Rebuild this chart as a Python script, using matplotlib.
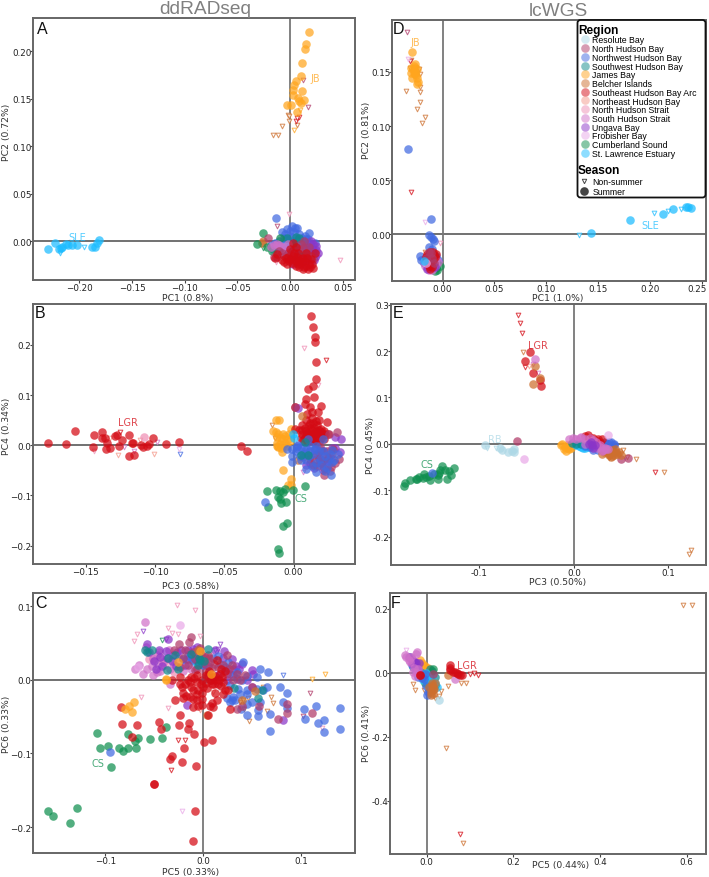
import matplotlib
matplotlib.use("Agg")
import matplotlib.pyplot as plt
from matplotlib.lines import Line2D
from matplotlib.patches import FancyBboxPatch
from matplotlib.transforms import IdentityTransform, ScaledTranslation

W, H = 709, 878
plt.rcParams['font.family'] = ['DejaVu Sans']

REGIONS = ["Resolute Bay", "North Hudson Bay", "Northwest Hudson Bay", "Southwest Hudson Bay", "James Bay",
           "Belcher Islands", "Southeast Hudson Bay Arc", "Northeast Hudson Bay", "North Hudson Strait",
           "South Hudson Strait", "Ungava Bay", "Frobisher Bay", "Cumberland Sound", "St. Lawrence Estuary"]
COLORS = {"RB": "#add8e6", "NHB": "#b03a68", "NW": "#4169e1", "SW": "#0e8a8a", "JB": "#ffa51e", "BI": "#cd6f2e",
          "SE": "#d40a14", "NE": "#f4998b", "NHS": "#ef8fb5", "SHS": "#d070c8", "UB": "#8a35c8", "FB": "#e9a9e8",
          "CS": "#0f8f4f", "SLE": "#1cbcff"}
KEYS = list(COLORS)

# ---------- Panel A: PC1 / PC2 ----------
A_JB = [(.0178,.2206),(.0152,.208),(.0142,.2027),(.0111,.188),(.0104,.174),(.0054,.1687),(.0035,.1645),(.0026,.1596),
        (.0117,.1585),(.0031,.154),(.0073,.151),(.0136,.1487),(.0085,.1477),(.0102,.1453),(-.0026,.1431),(.0012,.1431),(.0064,.1364)]
A_JB_ns = [(.0098,.138),(.0035,.1168)]
A_BI_ns = [(-.0016,.1333),(-.0007,.1316),(-.0007,.127),(.0064,.1224),(-.0079,.1214),(-.0159,.1122),(-.0114,.1116)]
A_SE_ns = [(.0085,.1312),(.0054,.1266),(.0064,.1295),(-.009,-.015),(.004,-.009)]
A_NHB_ns = [(.0123,.1698),(.0168,.141),(-.012,.0162)]
A_SLE = [(-.2301,-.0077),(-.2235,-.0014),(-.2178,-.0074),(-.219,-.0081),(-.2165,-.006),(-.213,-.0028),(-.2105,-.0042),
         (-.2073,-.0039),(-.2026,-.0039),(-.1877,-.006),(-.1855,-.0056),(-.1836,-.0018),(-.1811,.001)]
A_SLE_ns = [(-.2184,-.0123),(-.1953,-.006)]
A_NW = [(-.013,.025),(-.008,.0095),(-.005,.008),(-.003,.013),(0,.0105),(.002,.0165),(.005,.014),(.007,.014),(.004,.0095),
        (.009,.008),(.018,.0088),(.017,.0025),(.014,.006),(.002,.005),(-.004,.003),(.008,.002),(.012,-.001),(-.018,-.004),
        (-.012,-.008),(-.006,-.004),(-.002,-.009),(.003,-.006),(.008,-.007),(.012,-.01),(.016,-.008),(.019,-.003),
        (.02,-.012),(.005,-.012),(-.014,-.002),(.01,-.014),(.015,-.015),(.022,-.008),(-.016,-.008),(-.01,0),(-.006,.004),
        (0,.002),(.004,0),(.007,-.003),(.011,.004),(.015,.002),(.018,-.006),(.014,-.004),(.001,-.004),(.006,-.009),(.024,-.002)]
A_SE = [(-.014,-.018),(-.012,-.013),(0,-.008),(.003,-.002),(.006,-.006),(.008,-.012),(.003,-.015),(-.002,-.016),(-.004,-.018),
        (-.001,-.021),(.002,-.023),(.005,-.02),(.008,-.024),(.011,-.022),(.013,-.027),(.015,-.026),(.018,-.024),(.022,-.028),
        (.012,-.029),(.017,-.029),(.007,-.017),(.012,-.018),(.015,-.012),(.02,-.019),(.024,-.012),(-.006,-.022),(.01,-.019),(.019,-.027),
        (-.008,-.02),(-.003,-.024),(0,-.019),(.006,-.026),(.009,-.021),(.014,-.021),(.016,-.018),(.021,-.024),(.009,-.027),(.004,-.012)]
A_NHB = [(-.021,.003),(-.015,-.017),(-.01,-.01),(-.005,-.015),(.001,-.012),(.004,-.017),(.01,-.003),(.013,0),(.016,-.012),
         (.02,-.015),(.009,-.008),(.022,-.019),(.006,-.022),(.018,-.006),(-.012,-.016),(-.008,-.012),(-.002,-.012),(.002,-.018),
         (.008,-.016),(.012,-.007),(.014,-.017),(.018,-.018),(.003,-.009)]
A_UB = [(.025,-.005),(.022,-.01),(.027,-.012),(.02,0),(.018,-.016),(.014,-.006),(.024,-.016),(.01,-.024),(.006,-.02),(.022,-.003),
        (.02,-.008),(.016,-.02),(.025,-.009),(.012,-.02),(.003,-.024),(.023,-.02),(.018,-.012)]
A_CS = [(-.0222,-.006),(-.0317,-.0032),(-.0253,.0084),(-.0095,.003),(-.017,-.01)]
A_BI = [(-.0253,0),(-.0262,-.002)]
A_SW = [(-.003,.003),(.006,.005),(.003,-.004),(.012,-.013),(.009,.003)]
A_SHS = [(-.012,-.003),(-.008,-.006),(-.015,-.004),(-.018,-.006),(-.01,-.004),(-.006,-.01),(-.002,-.003)]
A_NHS_ns = [(-.0005,.0285),(.0477,-.0196),(.015,-.016),(-.013,-.022)]
A_SHS_ns = [(.027,-.016)]
A_CS_ns = [(-.026,-.007)]

# ---------- Panel B: PC3 / PC4 ----------
B_SE = [(-.1771,.0053),(-.1639,.0033),(-.1574,.0292),(-.1437,.0213),(-.1444,-.0027),(-.1384,.0259),(-.1379,.0153),(-.136,.014),
        (-.1355,-.0073),(-.1345,.0047),(-.1326,-.0047),(-.1288,.0193),(-.1273,.0206),(-.124,.01),(-.1263,-.002),(-.1191,-.0206),
        (-.1153,-.0193),(-.1186,.0206),(-.1167,.0053),(-.116,.0053),(-.11,.0013),(-.1085,-.0027),(-.1057,-.002),(-.1045,.002),
        (-.1016,.014),(-.0919,.0033),(-.0825,.0073),(-.0383,-.0007),(-.0337,-.0113),
        (.0125,.2571),(.0142,.2352),(.0154,.2166),(.0154,.206),(.0161,.1654),(.0164,.1316),(.0137,.1176),(.0106,.1123),(.0087,.0924),
        (.0144,.0957),(.0084,.0824),(.0012,.0757),(.0118,.0757),(.0197,.0784),(.013,.0658),(.0178,.0658),(.0094,.0625),(.0243,.0458),
        (.004,.03),(.008,.035),(.011,.04),(.014,.045),(.017,.04),(.02,.033),(.022,.028),(.006,.022),(.01,.025),(.013,.03),(.016,.028),
        (.019,.022),(.008,.015),(.011,.018),(.014,.02),(.017,.016),(.02,.014),(.012,.01),(.015,.012),(.018,.008),(.01,.006),(.009,.05),
        (.013,.055),(.018,.05),(.001,.032),(.023,.022),(.025,.022),(.006,.03),(.009,.028),(.012,.035),(.015,.035),(.018,.03),(.021,.02),
        (.007,.01),(.009,.02),(.012,.022),(.015,.022),(.017,.024),(.02,.026),(.013,.015),(.016,.005),(.011,.012),(.014,.008),(.006,.04),
        (.012,.045),(.016,.048),(.005,.015),(.022,.012)]
B_NHS = [(-.1076,.0166)]
B_SE_ns = [(-.1249,.0272),(.0236,.1708)]
B_NE_ns = [(-.1326,.014),(-.1264,-.0193),(-.1008,-.0173),(-.111,.011)]
B_NHS_ns = [(-.1437,-.0106),(.0072,.1947),(.0178,.121)]
B_SHS_ns = [(-.122,-.003),(-.115,-.0113),(-.0984,.0073),(.0065,-.0532)]
B_FB_ns = [(-.083,-.0073)]
B_NW_ns = [(-.0818,-.0173)]
B_JB = [(-.013,.0512),(-.0108,.0505),(-.0147,.0279),(-.0125,.0259),(-.0079,.0226),(-.0063,.0193),(-.0019,.0326),(-.0123,.0047),
        (-.0099,.0027),(-.0075,.0126),(-.0116,-.004),(-.0087,-.0126),(-.0077,-.0498),(-.0019,-.0678),(-.0039,-.0791),(-.0022,-.0784),(-.0026,.008),
        (-.012,.016),(-.009,.015),(-.006,.005),(-.004,.012),(-.012,-.002),(-.008,0),(-.005,-.002),(-.009,-.005),(-.003,.022),(-.011,.022)]
B_BI = [(.0058,.0591),(.003,-.03)]
B_BI_ns = [(-.0159,.0405),(-.0135,.014),(-.0128,-.004),(.017,-.03)]
B_CS = [(-.0195,-.0904),(-.0128,-.0884),(-.0099,-.0904),(-.0063,-.087),(-.0007,-.0897),(-.0079,-.0924),(-.0116,-.1037),(-.0099,-.107),
        (-.0091,-.115),(-.0055,-.1123),(-.0185,-.1223),(.0084,-.0817),(-.0046,-.1542),(-.0077,-.1601),(-.0111,-.2066),(-.0108,-.2146)]
B_NW = [(-.0209,-.113),(-.0051,-.0073),(-.0014,-.0073),(-.001,-.0219),(-.001,-.0326),(.0034,-.0073),(.0082,-.0106),(.0118,-.0007),
        (.0154,-.0073),(.0214,.0126),(.007,-.0173),(.0142,-.0173),(.0214,-.0106),(.025,-.0306),(.0274,-.0339),(.0087,-.0472),
        (.013,-.0405),(.0161,-.0525),(.0267,-.0591),(.0262,-.0173),(.0322,-.0173),(.019,-.0272),(.0226,-.0505),(.0022,-.0007),
        (.0106,.0126),(.0046,-.0206),(.002,-.012),(.005,-.003),(.009,-.005),(.012,-.012),(.016,-.002),(.018,-.012),(.011,-.022),
        (.023,-.022),(.028,-.01),(.02,-.04),(.016,-.035),(.024,-.045),(.029,-.03),(.005,-.03),(.009,-.03),(.003,0)]
B_NHB = [(.0253,.0226),(.0315,.0259),(.0221,-.0591),(.033,-.0272),(.027,-.0439),(.0166,-.0173),(.019,-.0007),(.0238,-.0239),
         (.0118,-.0206),(.007,-.0239),(.0286,-.0073),(.02,-.035),(.025,-.025),(.015,-.03),(.0012,.0757),(.012,-.028),(.017,-.042),
         (.022,-.045),(.028,-.018),(.021,-.03),(.03,-.036),(.018,-.02),(.024,-.012),(.014,-.04),(.009,-.015),(.026,-.052),(.02,-.01)]
B_UB = [(.0339,.0126),(.0298,.016),(.0335,-.014),(.028,-.005),(.022,-.012),(.02,-.035),(.003,.075),(.015,-.01),(.025,-.04),(.012,-.035),
        (.018,-.025),(.027,-.025),(.024,-.03),(.03,-.005),(.015,-.045),(.021,-.05),(.009,-.04)]
B_SW = [(.0106,-.0193),(.0082,.006),(.005,-.02)]
B_SLE = [(-.0002,.0226),(0,.015)]

# ---------- Panel C: PC5 / PC6 ----------
C_CS = [(-.1581,-.1783),(-.153,-.1851),(-.1285,-.1738),(-.1357,-.195),(-.1087,-.0719),(-.105,-.0932),(-.0968,-.0905),(-.0944,-.1186),
        (-.0855,-.0928),(-.0818,-.0973),(-.0767,-.0923),(-.0763,-.0733),(-.0688,-.0928),(-.0665,-.0792),(-.0695,-.0837),(-.0542,-.081),
        (-.0419,-.0787),(-.0382,-.0643)]
C_JB = [(-.0706,-.0299),(-.0753,-.0357),(-.0798,-.0398),(-.0726,-.0434),(-.0382,0),(-.0252,.024),(.0078,.0081),(-.0031,.0385),(-.0378,.0014)]
C_SE = [(-.0835,-.0367),(-.0832,-.0597),(-.0675,-.062),(-.0726,-.0778),(-.045,-.0575),(-.0426,-.0674),(-.0235,-.0475),(-.0242,-.062),
        (-.014,-.0584),(-.015,-.0665),(-.0095,-.0738),(-.0194,-.0923),(-.0317,-.1036),(-.0337,-.1081),(-.0211,-.1118),(-.0072,-.1172),
        (.001,-.0842),(.0089,-.0814),(-.0501,-.1416),(-.0498,-.1421),(-.0078,-.1787),(-.0099,-.2195),(-.0286,-.0276),(-.032,-.0009),
        (-.0235,.0036),(-.0184,-.0054),(-.0235,-.0054),(-.0133,-.0032),(-.0065,-.0032),(-.0014,-.0009),(.0055,.0059),(.0106,.0036),
        (.0147,.0262),(.0174,.0081),(.0208,-.0032),(.0157,-.0054),(.0225,-.0145),(-.0133,-.0235),(-.0099,-.0258),(-.0065,-.0281),
        (-.0014,-.0258),(-.0099,-.0371),(-.0014,-.0339),(-.0201,-.0176),(-.0218,-.01),(-.0099,-.0145),(-.0048,-.0145),(.0089,-.0312),
        (.014,-.0271),(.0106,-.0371),(.0072,-.0357),(.0276,-.0394),(-.0003,-.01),(.0089,-.0054),(.0123,-.0009),(.0072,-.0009),
        (.0191,.0036),(.0259,-.0145),(.0055,-.0475),(-.0152,0),(-.0088,.0025),(-.002,-.006),(.003,-.004),(.008,0),(.0125,.0045),(.016,0),
        (.0185,-.008),(.011,-.006),(-.012,-.01),(-.017,-.022),(-.006,-.02),(-.001,-.018),(.004,-.011),(.023,.012),(.018,.014),(.006,.012),
        (.003,.006),(-.006,.0065),(-.012,.004),(-.02,-.025),(-.005,-.035),(.012,-.018),(.02,-.02)]
C_NHB = [(-.0123,.0579),(-.0242,.0489),(-.014,.0511),(.002,.0308),(.0072,.024),(-.0082,.0285),(-.0235,.0172),(-.015,.0195),(-.0082,.0127),
         (.002,.0104),(.0242,.033),(.0344,-.0394),(.0429,.0059),(.0242,.0081),(.0576,-.0357),(.077,-.0529),(.0862,-.0326),(.0862,-.0452),
         (.0344,.0081),(.031,-.0009),(.002,.0217),(.1111,-.0452),(-.006,.015),(-.002,.035),(.005,.034),(.011,.022),(.015,.017),(.02,.02),
         (.027,.015),(.009,.016),(-.018,.04),(-.01,.038),(-.003,.043),(.006,.03),(.03,.02),(.038,0),(.05,-.01),(.04,-.035),(-.03,.04),(-.02,.03)]
C_NW = [(.0412,.024),(.0259,.024),(.0579,.014),(.0665,.0104),(.0549,.0036),(.0651,-.01),(.0791,-.0104),(.0859,-.0181),(.0818,-.0303),
        (.0859,-.0385),(.0446,-.0199),(.0617,-.0136),(.0453,-.0326),(.0562,-.0416),(.0562,-.0493),(.0446,-.0484),(.0686,-.0462),(.0686,-.0692),
        (.0242,-.0244),(.0293,-.0281),(.031,-.0235),(.0378,-.019),(.031,.0059),(.0344,.0014),(-.0116,.0262),(-.0048,.024),(-.015,.033),
        (.0276,-.0077),(.0446,-.0145),(.1033,-.0398),(.1047,-.0534),(.1152,-.0357),(.1179,-.0588),(.1237,-.0552),(.1234,-.071),(.1397,-.0385),
        (.1397,-.0674),(-.0948,-.0982),(-.02,.028),(-.008,.035),(0,.02),(.005,.018),(.017,.022),(.022,.017),(.035,.01),(.04,0),(.045,.005),
        (.036,-.012),(.05,-.03),(.028,-.03),(.033,-.028),(-.003,.03),(.01,.03),(.015,.032),(.058,-.03),(.055,-.012),(.039,-.04)]
C_UB = [(-.0576,.0489),(-.0354,.0548),(-.0378,.0389),(.0218,.0389),(-.0484,.0149),(-.0303,.033),(-.0269,.0376),(-.0167,.0285),(-.0099,.0421),
        (.0337,.0186),(.0498,.0127),(.0815,-.0552),(.0225,.0127),(.031,.0149),(.0515,.0081),(.0276,.0081),(.0157,.0059),(-.0014,.0217),
        (-.044,.0308),(-.0167,-.0348),(-.055,.038),(-.045,.04),(-.037,.03),(-.032,.025),(-.022,.04),(-.015,.04),(-.006,.045),(-.018,.02),
        (-.042,.018),(-.028,.018),(.012,.04),(.03,.028),(.04,.022),(.025,0),(.045,0),(.05,-.01),(-.05,.025),(.037,.015),(.02,.03)]
C_SHS = [(-.0596,.0787),(-.0695,.014),(-.061,.0072),(-.0508,.0068),(-.0576,.0149),(-.0474,.0104),(-.0406,.024),(-.0337,.0149),
         (-.0508,.0285),(-.0474,.033),(-.0337,-.0054),(-.0457,.0217),(-.03,.02),(-.025,.03),(-.058,.045),(-.035,.04),(-.02,.012),(-.044,.012),
         (-.065,.02),(-.012,.015),(-.052,.018)]
C_FB = [(-.0235,.0738),(-.0661,.0172)]
C_NHS = [(-.0423,.0285),(-.0508,.029),(-.04,.02),(-.034,.027),(-.045,.038),(-.03,.01),(-.055,.028)]
C_SW = [(-.0593,.0398),(-.0575,.038),(-.0371,.0127),(-.0286,.033),(.0055,.0412),(-.0048,.0195),(-.0252,.0149),(-.0031,.0262),(.0317,-.0113),
        (.0566,-.0249),(.0603,-.0145),(-.036,.03),(-.012,.035),(-.004,.03),(.001,.025),(-.052,.04)]
C_BI = [(.0044,-.0484),(.0532,-.0158),(.0395,-.0281),(-.0048,.0398)]
C_SLE = [(.002,.0014),(-.0099,.024),(-.0133,.0308),(-.008,.028),(-.004,.022),(0,.03),(0,.02)]
C_NHS_ns = [(-.0269,.1018),(-.0082,.0941),(-.0671,.0615),(-.0702,.052),(-.0354,.0701),(-.0314,.0633),(-.0252,.0615),(-.0031,.0597),
            (-.0634,-.0235),(-.0361,-.0385),(.1213,-.0652)]
C_UB_ns = [(-.061,.0656),(-.0382,.0557),(.0174,.0489),(.0157,.0421)]
C_NW_ns = [(.0123,.0398),(.0815,.0068)]
C_CS_ns = [(-.0416,.0538)]
C_JB_ns = [(.1115,.0014),(.1247,.0072)]
C_NHB_ns = [(.1094,-.0181),(.1026,-.0493)]
C_BI_ns = [(.0695,-.0231),(.0719,-.0312),(.0412,-.0281),(.0464,-.0249),(.0419,-.0403),(.0474,-.0566),(.0651,-.043),(.061,-.01),(.0378,-.0303)]
C_SE_ns = [(-.0252,-.0814),(-.0181,-.0814),(-.0327,-.1231)]
C_FB_ns = [(-.0211,-.1778)]
C_NE_ns = [(-.0031,-.0416),(-.0065,-.0213),(.0106,-.0167)]

# ---------- Panel D: PC1 / PC2 ----------
D_JB = [(-.0299,.1688),(-.0264,.1571),(-.0286,.1525),(-.0248,.1525),(-.0305,.1534),(-.028,.1494),(-.0296,.1448),(-.0248,.1448),
        (-.0248,.1386),(-.0264,.154),(-.027,.1479),(-.0275,.1555),(-.03,.149),(-.0255,.147),(-.024,.141),(-.0265,.1495)]
D_NW = [(-.0338,.0786),(-.0109,.0139),(-.0132,-.0003),(-.0109,-.0022),(-.0093,-.0046),(-.0087,-.0062),(-.0215,-.02),(-.0103,-.0139),
        (-.013,-.012),(-.016,-.027),(-.018,-.023),(-.006,-.02),(-.0205,-.024),(-.018,-.027),(-.012,-.022),(-.004,-.024)]
D_SLE = [(.143,.0012),(.1813,.0129),(.2125,.0191),(.2221,.0237),(.235,.0253),(.2372,.0253),(.2398,.024),(-.018,-.025)]
D_SLE_ns = [(.1315,-.0009),(.2041,.0194),(.2298,.0231),(.2179,.0216)]
D_NHB_ns = [(-.0347,.187)]
D_FB_ns = [(-.0334,.1624),(-.0167,.0114)]
D_SE_ns = [(-.0318,.1602),(-.0302,.0391),(-.0119,-.0231)]
D_BI_ns = [(-.0305,.1608),(-.0318,.154),(-.0231,.1525),(-.0222,.1479),(-.035,.1322),(-.0215,.1365),(-.0215,.1315),(-.0222,.1223),
           (-.0248,.1161),(-.0167,.1084),(-.0203,.1029),(-.0174,-.016)]
D_NHS_ns = [(-.0023,-.0077)]
D_SE = [(-.0135,-.0185),(-.011,-.02),(-.008,-.019),(-.014,-.023),(-.012,-.026),(-.009,-.024),(-.007,-.021),(-.012,-.032),(-.013,-.029),(-.01,-.03),
        (-.015,-.018),(-.012,-.016),(-.009,-.016),(-.006,-.018),(-.016,-.021)]
D_NHB = [(-.016,-.022),(-.013,-.016),(-.011,-.017),(-.015,-.025),(-.008,-.027),(-.01,-.022)]
D_SHS = [(-.014,-.028),(-.012,-.03),(-.011,-.027),(-.008,-.025),(-.015,-.03),(-.009,-.031),(-.006,-.028),(-.017,-.029),(-.013,-.033),
         (-.01,-.033),(-.006,-.023),(-.018,-.026),(-.004,-.026)]
D_UB = [(-.012,-.028),(-.007,-.03),(-.015,-.032)]
D_CS = [(-.005,-.033),(-.002,-.029),(-.006,-.031),(-.007,-.034)]
D_SW = [(-.01,-.03),(-.005,-.027)]
D_FB = [(-.016,-.027)]

# ---------- Panel E: PC3 / PC4 ----------
E_SE_ns = [(-.0589,.2771),(-.0568,.2612),(-.055,.2395),(-.0519,.1652),(.0861,-.0599)]
E_BI_ns = [(-.054,.1977),(.0519,-.0137),(.066,-.0332),(.0377,-.03),(.0561,-.0281),(.0959,-.0599),(.1242,-.2294),(.1217,-.2374)]
E_SHS_ns = [(-.0434,.1717),(-.0381,.1522)]
E_NE_ns = [(-.0469,.1688)]
E_RB_ns = [(-.0921,-.0087),(-.0822,-.0087)]
E_SE = [(-.0466,.1977),(-.0519,.1782),(-.0437,.153),(-.0353,.1378),(-.0346,.1241),(.0148,.0202),(.0166,.013),(.0254,.0101),(.03,.0101),
        (.0219,.0043),(.0265,.0007),(.02,.012),(.024,.006),(.028,.004),(.012,.016)]
E_BI = [(-.0353,.1414),(-.0434,.1299),(-.0409,.1674),(.0377,-.0209),(.0413,-.0173),(.0448,-.0173),(.043,-.0245),(.0483,-.0173),(.0395,-.0281),
        (.032,-.017),(.035,-.018),(.04,-.014),(.044,-.012),(.037,-.024),(.046,-.021),(.04,-.027),(.03,-.022),(.05,-.024)]
E_SHS = [(-.0416,.184),(-.0046,.0115),(-.0011,.013),(.0078,.0152),(.0342,-.0101),(.0307,-.0137),(.0272,-.0029),(.0025,.0115),(.0113,.0007),
         (.012,.01),(.017,.012),(.02,.008),(.023,.004),(.028,-.006),(.033,-.009),(.036,-.012),(.025,-.008),(.006,.012),(.03,-.015)]
E_RB = [(-.0938,-.0029),(-.078,-.0079),(-.0758,-.0123),(-.0698,-.0173),(-.0653,-.0144),(-.0628,-.0115),(-.0638,-.0173)]
E_NHB = [(-.0603,.0058),(.0494,-.0317),(.0568,-.0303)]
E_FB = [(-.0522,-.0317),(.036,.0188)]
E_CS = [(-.1792,-.0909),(-.1781,-.0837),(-.1728,-.0779),(-.1668,-.0765),(-.1658,-.0765),(-.1598,-.0729),(-.1587,-.0657),(-.1527,-.07),
        (-.152,-.0779),(-.1474,-.0642),(-.1432,-.075),(-.1422,-.0628),(-.1393,-.0483),(-.1414,-.057),(-.1358,-.0556),(-.1344,-.075),
        (-.1323,-.0592),(-.1298,-.0664),(-.1263,-.0512),(-.1633,-.0714),(-.1559,-.0714),(-.1439,-.0678)]
E_NW = [(-.1499,-.0628),(.0166,-.0065),(.0201,-.0137),(.0254,-.0137),(.0395,.0043),(.043,-.0014),(.036,.0007),(.012,-.004),(.015,-.001),
        (.021,-.005),(.028,0),(.033,.004),(.037,.005),(.04,-.004),(.03,-.01),(.042,0)]
E_JB = [(-.0134,-.0014),(-.0109,-.0101),(-.0081,-.0159),(-.0063,-.0087),(-.0039,-.0029),(-.012,0),(-.009,-.006),(-.005,-.012),(-.007,-.002),(-.003,-.008)]
E_SW = [(.0078,.0007),(.0025,.0007),(-.0018,.0029)]
E_SLE = [(.0078,-.0065),(.0053,-.0043),(.0102,-.0087),(.0123,-.0043),(.002,-.002),(.006,0),(.012,-.008),(.015,-.007)]
E_UB = [(.0183,.0043),(.0194,-.0029),(.022,-.002),(.016,0),(.02,-.009)]

# ---------- Panel F: PC5 / PC6 ----------
F_BI_ns = [(.5912,.2121),(.612,.2121),(.0454,-.2341),(.0847,-.5308),(.05,-.0418),(-.0308,-.0334),(-.0269,-.0522),(-.0054,-.0543),
           (.0323,-.0564),(.0793,-.0303),(.0908,-.0303),(.0293,-.0731),(.0231,-.0439),(.0192,-.0784)]
F_SE_ns = [(.0762,-.5037),(.1,-.0042),(.1093,0),(.1178,-.0063)]
F_FB_ns = [(-.0485,.0711)]
F_SE = [(.0547,.024),(.0539,.0084),(.0654,.0031),(.0731,-.0021),(.0808,-.0052),(.0539,.0157),(-.0154,-.0073),(.07,0),(.06,.002),(.076,-.006),(-.016,-.005)]
F_BI = [(.0493,-.0063),(.0115,-.0387),(.0139,-.0543),(.0092,-.07),(.0154,-.0439),(.012,-.03),(.016,-.05),(.01,-.058),(.018,-.03),(.006,-.045),(.014,-.065)]
F_SHS = [(.0654,-.0199),(-.05,.0554),(-.0223,.0658),(-.0308,.0031),(-.0385,.0345),(-.048,.05),(-.042,.042),(-.036,.05),(-.025,.06),(-.02,.012),
         (-.03,.015),(-.022,0),(-.026,-.01)]
F_UB = [(-.0346,.0449),(-.0308,.0293),(-.0192,.0136),(-.0269,.0345),(-.04,.05),(-.032,.038),(-.024,.03),(-.035,.03),(-.018,.03),(-.025,.02)]
F_NW = [(-.0385,.0502),(-.0269,.0188),(-.0038,-.0021),(-.0154,-.0073),(.0015,-.07),(-.03,.035),(-.034,.025),(-.025,.005),(-.02,-.012),(-.012,-.015),
        (-.006,-.018),(-.02,.005),(.003,-.06),(-.002,-.04)]
F_SW = [(-.0308,.0188),(.0077,.0136),(.0077,-.0282),(-.025,.012),(-.012,0),(.012,.005),(-.004,-.01),(.005,-.012),(.018,-.012)]
F_CS = [(.0154,.0136),(0,-.0282),(.006,-.025),(-.003,-.03),(.01,-.02),(.02,-.038),(.012,-.04)]
F_NHB = [(.0154,-.0021)]
F_JB = [(-.0077,.024),(0,.0136),(-.0154,.0397),(-.012,.03),(-.004,.022),(.003,.017),(.008,0),(.002,.008)]
F_SLE = [(-.0077,-.023),(.0038,-.0125),(.0115,-.0334),(.0231,-.0439),(-.004,-.015),(.006,-.022),(.012,-.018),(.018,-.03),(.002,-.032),(-.01,-.01),(-.002,0)]
F_RB = [(.0277,-.0846)]

A_TICKS_X = [-.20,-.15,-.10,-.05,0,.05]; A_LAB_X = ["\u22120.20","\u22120.15","\u22120.10","\u22120.05","0.00","0.05"]
A_TICKS_Y = [0,.05,.10,.15,.20]; A_LAB_Y = ["0.00","0.05","0.10","0.15","0.20"]
B_TICKS_X = [-.15,-.10,-.05,0]; B_LAB_X = ["\u22120.15","\u22120.10","\u22120.05","0.00"]
B_TICKS_Y = [-.2,-.1,0,.1,.2]; B_LAB_Y = ["\u22120.2","\u22120.1","0.0","0.1","0.2"]
C_TICKS_X = [-.1,0,.1]; C_LAB_X = ["\u22120.1","0.0","0.1"]
C_TICKS_Y = [-.2,-.1,0,.1]; C_LAB_Y = ["\u22120.2","\u22120.1","0.0","0.1"]
D_TICKS_X = [0,.05,.10,.15,.20,.25]; D_LAB_X = ["0.00","0.05","0.10","0.15","0.20","0.25"]
D_TICKS_Y = [0,.05,.10,.15]; D_LAB_Y = ["0.00","0.05","0.10","0.15"]
E_TICKS_X = [-.1,0,.1]; E_LAB_X = ["-0.1","0.0","0.1"]
E_TICKS_Y = [-.2,-.1,0,.1,.2,.3]; E_LAB_Y = ["-0.2","-0.1","0.0","0.1","0.2","0.3"]
F_TICKS_X = [0,.2,.4,.6]; F_LAB_X = ["0.0","0.2","0.4","0.6"]
F_TICKS_Y = [-.4,-.2,0,.2]; F_LAB_Y = ["-0.4","-0.2","0.0","0.2"]

G = globals()
fig = plt.figure(figsize=(W/100, H/100), dpi=100)


def panel(name, box, xlim, ylim, xlabel, xlab_px, ylabel, ylab_px, letter_px, order, notes):
    l, t, r, b = box
    ax = fig.add_axes([l/W, 1-b/H, (r-l)/W, (b-t)/H])
    ax.set_xlim(*xlim); ax.set_ylim(*ylim)
    ax.axhline(0, color="#666666", lw=1.3, zorder=1)
    ax.axvline(0, color="#777777", lw=1.3, zorder=1)
    for k in KEYS:
        pts = G.get(f"{name}_{k}_ns")
        if pts:
            ax.scatter(*zip(*pts), s=11, marker="v", facecolors="#ffffff22", edgecolors=COLORS[k], linewidths=.75, alpha=.75, zorder=2)
    for i, k in enumerate(order):
        pts = G.get(f"{name}_{k}")
        if pts:
            ax.scatter(*zip(*pts), s=38, color=COLORS[k], alpha=.72, linewidths=0, zorder=3+i*.01)
    ax.set_xticks(G[f"{name}_TICKS_X"], G[f"{name}_LAB_X"])
    ax.set_yticks(G[f"{name}_TICKS_Y"], G[f"{name}_LAB_Y"])
    ax.tick_params(length=2, width=.8, labelsize=6.3, color="#444444", labelcolor="#222222")
    ax.tick_params(axis="x", pad=.5)
    ax.tick_params(axis="y", pad=-1)
    for s in ax.spines.values():
        s.set_color("#666666"); s.set_linewidth(1.4)
    ax.set_xlabel(xlabel, fontsize=6.7, color="#333333")
    ax.xaxis.set_label_coords(xlab_px[0]/W, 1-xlab_px[1]/H, transform=fig.transFigure)
    ax.xaxis.label.set_va("center")
    ax.set_ylabel(ylabel, fontsize=6.7, color="#333333")
    ax.yaxis.set_label_coords(ylab_px[0]/W, 1-ylab_px[1]/H, transform=fig.transFigure)
    ax.yaxis.label.set_va("center")
    fig.text(letter_px[0]/W, 1-letter_px[1]/H, name, fontsize=11.5, ha="center", va="center",
             family="Liberation Sans", color="#111111", zorder=6)
    for txt, x, y, k in notes:
        ax.text(x, y, txt, color=COLORS[k], alpha=.75, fontsize=7, ha="center", va="center", zorder=6)
    return ax


ORD_A = ["RB","NW","SW","JB","BI","CS","SLE","NE","NHS","SHS","UB","NHB","SE"]
ORD_B = ["RB","JB","SE","BI","CS","SLE","NHS","UB","NHB","NW","SW"]
ORD_C = ["RB","CS","SLE","NHS","SHS","FB","UB","NW","NHB","SW","BI","SE","JB"]
ORD_D = ["RB","JB","NW","SW","CS","SHS","UB","SE","NHB","FB","SLE"]
ORD_E = ["RB","CS","JB","SLE","SW","NW","NHB","SE","BI","FB","SHS","UB"]
ORD_F = ["RB","JB","SW","CS","SLE","NW","UB","SHS","BI","NHB","SE"]

panel("A", (33,19,355,281), (-.244,.0617), (-.0407,.235), "PC1 (0.8%)", (188,298), "PC2 (0.72%)", (6,132), (42,29), ORD_A,
      [("SLE",-.2023,.0045,"SLE"),("JB",.0237,.1719,"JB")])
panel("B", (33,305,355,565), (-.188,.0443), (-.2366,.2816), "PC3 (0.58%)", (191,586), "PC4 (0.34%)", (6,426), (40,314), ORD_B,
      [("LGR",-.1196,.0464,"SE"),("CS",.0053,-.105,"CS")])
panel("C", (33,594,355,854), (-.1738,.1554), (-.2352,.1177), "PC5 (0.33%)", (191,873), "PC6 (0.33%)", (6,724), (41,603), ORD_C,
      [("CS",-.1074,-.1127,"CS")])
ax_d = panel("D", (392,21,706,282), (-.0488,.2543), (-.0432,.198), "PC1 (1.0%)", (558,299), "PC2 (0.81%)", (366,130), (398,29), ORD_D,
      [("JB",-.0263,.1775,"JB"),("SLE",.2003,.0083,"SLE")])
panel("E", (391,305,706,566), (-.1934,.1398), (-.261,.3015), "PC3 (0.50%)", (558,582), "PC4 (0.45%)", (370,445), (398,314), ORD_E,
      [("LGR",-.0384,.2128,"SE"),("RB",-.0839,.0115,"RB"),("CS",-.1559,-.0426,"CS")])
panel("F", (390,594,706,855), (-.0848,.645), (-.566,.25), "PC5 (0.44%)", (561,866), "PC6 (0.41%)", (366,733), (396,604), ORD_F,
      [("LGR",.0931,.026,"SE")])

# the last tick label of panel D sits a little to the left so it stays on the page
last = ax_d.get_xticklabels()[-1]
last.set_transform(last.get_transform() + ScaledTranslation(-3.5/72, 0, fig.dpi_scale_trans))

fig.text(205/W, 1-10/H, "ddRADseq", fontsize=13.8, color="#808080", family="Liberation Sans", ha="center", va="center")
fig.text(558/W, 1-12/H, "lcWGS", fontsize=13.8, color="#808080", family="Liberation Sans", ha="center", va="center")

# Legend frame
frame = FancyBboxPatch((577.5, H-198.5), 128, 177.5, boxstyle="round,pad=0,rounding_size=3", transform=IdentityTransform(),
                       fc="white", ec="#111111", lw=1.3, zorder=7)
fig.add_artist(frame)

h_region = [Line2D([], [], ls="", marker="o", ms=6.2, mew=0, color=COLORS[k], alpha=.5) for k in KEYS]
leg1 = fig.legend(h_region, REGIONS, loc="upper left", bbox_to_anchor=(576/W, 1-22/H), frameon=False,
                  title="Region", alignment="left", title_fontproperties={"weight": "bold", "size": 8.6, "family": "Liberation Sans"},
                  labelspacing=-.03, handletextpad=.05, handlelength=1.5, borderpad=.3, borderaxespad=0,
                  prop={"family": "Liberation Sans", "size": 6.3})
leg1.set_zorder(8)
h_season = [Line2D([], [], ls="", marker="v", ms=3.2, mfc="none", mec="#444444", mew=.7),
            Line2D([], [], ls="", marker="o", ms=6.2, mew=0, color="#444444")]
leg2 = fig.legend(h_season, ["Non-summer", "Summer"], loc="upper left", bbox_to_anchor=(576/W, 1-163/H), frameon=False,
                  title="Season", alignment="left", title_fontproperties={"weight": "bold", "size": 8.6, "family": "Liberation Sans"},
                  labelspacing=.12, handletextpad=.15, handlelength=1.5, borderpad=.2, borderaxespad=0,
                  prop={"family": "Liberation Sans", "size": 6.3})
leg2.set_zorder(8)

fig.savefig("out.png", dpi=100)
